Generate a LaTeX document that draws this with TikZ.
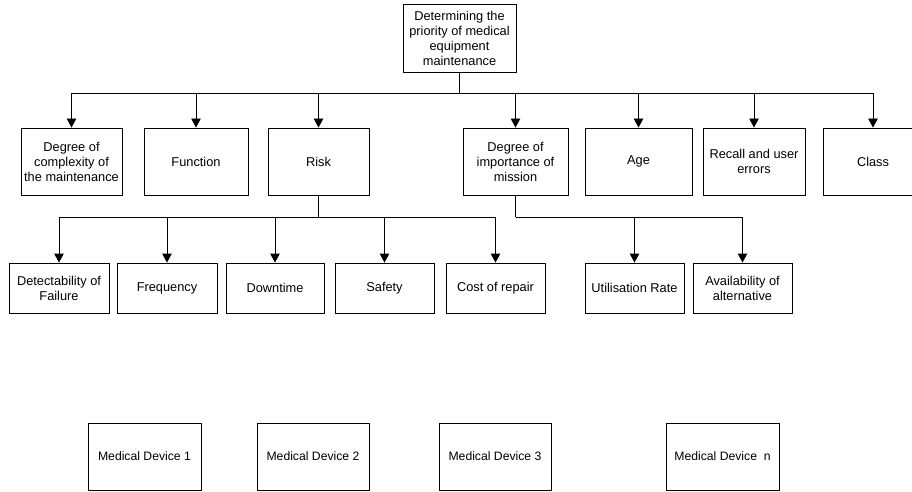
\documentclass[tikz,border=0pt]{standalone}
\usepackage{fontspec}
\setmainfont{Liberation Sans}
\usetikzlibrary{arrows.meta,calc}
\begin{document}
\begin{tikzpicture}[x=1pt,y=-1pt,
  box/.style={draw,line width=0.9pt,rectangle,inner sep=0pt,align=center,
    font=\fontsize{12.8}{15}\selectfont},
  lvone/.style={box,minimum height=67},
  lvtwo/.style={box,minimum height=50},
  dev/.style={box,minimum height=67,font=\fontsize{12.2}{14}\selectfont},
  conn/.style={line width=0.9pt},
  stem/.style={line width=1.6pt},
  arr/.style={conn,-{Triangle[width=9.5pt,length=9pt]}}]
\useasboundingbox (0,0) rectangle (912,492);
\fill[white] (0,0) rectangle (912,492);

\node[box,minimum width=113,minimum height=68] (top) at (459.5,38)
  {Determining the\\priority of medical\\equipment\\maintenance};

\node[lvone,minimum width=101] (dc) at (71.5,161.5) {Degree of\\complexity of\\the maintenance};
\node[lvone,minimum width=104] (fn) at (196,161.5) {Function};
\node[lvone,minimum width=101] (risk) at (318.5,161.5) {Risk};
\node[lvone,minimum width=105] (dim) at (515.5,161.5) {Degree of\\importance of\\mission};
\node[lvone,minimum width=107] (age) at (638.5,161.5) {Age};
\node[lvone,minimum width=102] (rec) at (754,161.5) {Recall and user\\errors};
\node[lvone,minimum width=100] (cls) at (873,161.5) {Class};

\node[lvtwo,minimum width=100] (det) at (59,288) {Detectability of\\Failure};
\node[lvtwo,minimum width=100] (freq) at (167,288) {Frequency};
\node[lvtwo,minimum width=98] (down) at (275,288) {Downtime};
\node[lvtwo,minimum width=99] (safe) at (384.5,288) {Safety};
\node[lvtwo,minimum width=99] (cost) at (495.5,288) {Cost of repair};
\node[lvtwo,minimum width=99] (util) at (634.5,288) {Utilisation Rate};
\node[lvtwo,minimum width=99] (avail) at (742.5,288) {Availability of\\alternative};

\node[dev,minimum width=113] (md1) at (144.5,456.5) {Medical Device 1};
\node[dev,minimum width=112] (md2) at (313,456.5) {Medical Device 2};
\node[dev,minimum width=112] (md3) at (495,456.5) {Medical Device 3};
\node[dev,minimum width=113] (mdn) at (722.5,456.5) {Medical Device\ \ n};

% top bus
\coordinate (b0) at ($(top.south)+(0,21)$);
\draw[stem] (top.south) -- (b0);
\foreach \t in {dc,fn,risk,dim,age,rec,cls}
  \draw[arr] (b0) -| (\t.north);

% risk bus
\coordinate (b1) at ($(risk.south)+(0,22)$);
\draw[stem] (risk.south) -- (b1);
\foreach \t in {det,freq,down,safe,cost}
  \draw[arr] (b1) -| (\t.north);

% mission bus
\coordinate (b2) at ($(dim.south)+(0,22)$);
\draw[stem] (dim.south) -- (b2);
\foreach \t in {util,avail}
  \draw[arr] (b2) -| (\t.north);
\end{tikzpicture}
\end{document}
